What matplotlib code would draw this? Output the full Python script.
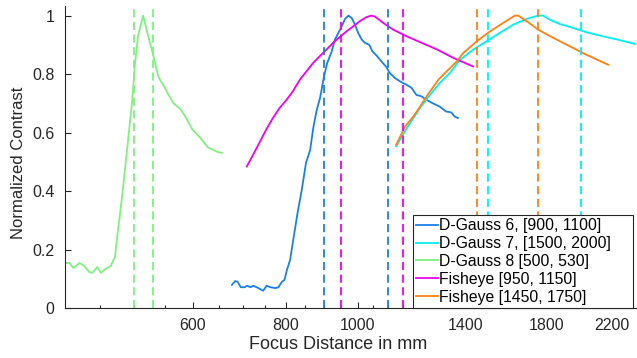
import matplotlib
matplotlib.use("Agg")
import matplotlib.pyplot as plt
from matplotlib.ticker import FixedLocator, NullFormatter
import numpy as np

plt.rcParams['font.family'] = ['Liberation Sans', 'DejaVu Sans']

# D-Gauss 6, focus range [900, 1100]
dg6_x = [677, 684, 689, 696, 704, 710, 717, 724, 735, 746, 754, 763, 775, 782, 791, 797,
         803, 811, 819, 830, 841, 852, 863, 872, 881, 890, 901, 910, 923, 932, 947, 962,
         972, 982, 992, 1002, 1013, 1023, 1037, 1047, 1061, 1077, 1092, 1105, 1122, 1146,
         1163, 1182, 1200, 1219, 1238, 1263, 1290, 1316, 1337, 1351, 1365]
dg6_y = [0.079, 0.092, 0.090, 0.071, 0.071, 0.076, 0.071, 0.076, 0.068, 0.059, 0.076, 0.071,
         0.068, 0.071, 0.090, 0.096, 0.130, 0.164, 0.233, 0.325, 0.404, 0.496, 0.540, 0.620,
         0.678, 0.718, 0.792, 0.838, 0.878, 0.918, 0.952, 0.989, 1.000, 0.992, 0.969, 0.940,
         0.918, 0.907, 0.900, 0.878, 0.863, 0.843, 0.826, 0.804, 0.787, 0.772, 0.764, 0.753,
         0.729, 0.724, 0.712, 0.700, 0.689, 0.672, 0.669, 0.655, 0.650]

# D-Gauss 7, focus range [1500, 2000]
dg7_x = [1127, 1165, 1214, 1252, 1291, 1332, 1374, 1432, 1492, 1555, 1621, 1690, 1751,
         1779, 1816, 1874, 1952, 2035, 2143, 2257, 2364]
dg7_y = [0.553, 0.615, 0.685, 0.729, 0.770, 0.804, 0.849, 0.884, 0.912, 0.941, 0.969,
         0.989, 1.000, 1.000, 0.986, 0.971, 0.958, 0.943, 0.929, 0.916, 0.903]

# D-Gauss 8, focus range [500, 530]
dg8_x = [403, 409, 414, 422, 428, 435, 439, 446, 451, 457, 465, 471, 475, 481, 489, 497,
         501, 506, 514, 521, 531, 539, 548, 556, 565, 577, 586, 590, 599, 612, 628, 646, 656]
dg8_y = [0.154, 0.154, 0.137, 0.154, 0.144, 0.123, 0.120, 0.140, 0.120, 0.133, 0.144, 0.175,
         0.257, 0.370, 0.540, 0.710, 0.830, 0.930, 1.000, 0.940, 0.860, 0.790, 0.760, 0.730,
         0.700, 0.680, 0.655, 0.640, 0.610, 0.586, 0.550, 0.535, 0.530]

# Fisheye, focus range [950, 1150]
fe1_x = [709, 721, 737, 753, 769, 785, 802, 818, 836, 853, 871, 889, 908, 926, 946, 966,
         986, 1007, 1028, 1044, 1055, 1083, 1117, 1165, 1215, 1280, 1347, 1431]
fe1_y = [0.484, 0.518, 0.564, 0.610, 0.650, 0.684, 0.712, 0.741, 0.781, 0.809, 0.838, 0.861,
         0.884, 0.906, 0.927, 0.946, 0.963, 0.981, 0.995, 1.000, 0.997, 0.975, 0.952, 0.929,
         0.909, 0.884, 0.855, 0.826]

# Fisheye, focus range [1450, 1750]
fe2_x = [1127, 1159, 1189, 1214, 1239, 1285, 1318, 1360, 1388, 1447, 1508, 1571, 1629,
         1646, 1690, 1751, 1835, 1932, 2035, 2176]
fe2_y = [0.558, 0.621, 0.655, 0.689, 0.724, 0.781, 0.809, 0.843, 0.872, 0.912, 0.946,
         0.975, 1.000, 1.000, 0.981, 0.952, 0.924, 0.895, 0.866, 0.832]

labels = ['D-Gauss 6, [900, 1100]', 'D-Gauss 7, [1500, 2000]', 'D-Gauss 8 [500, 530]',
          'Fisheye [950, 1150]', 'Fisheye [1450, 1750]']
colors = ['#1a80e6', '#00f0f0', '#80f080', '#f000f0', '#ff8010']
ranges = [[900, 1100], [1500, 2000], [500, 530], [950, 1150], [1450, 1750]]
series = [(dg6_x, dg6_y), (dg7_x, dg7_y), (dg8_x, dg8_y), (fe1_x, fe1_y), (fe2_x, fe2_y)]

xticks = [600, 800, 1000, 1400, 1800, 2200]
yticks = [0, 0.2, 0.4, 0.6, 0.8, 1]

fig = plt.figure(figsize=(6.37, 3.58), dpi=100)
ax = fig.add_axes([0.1028, 0.1397, 0.8956, 0.8436])

handles = []
for (xs, ys), lab, c in zip(series, labels, colors):
    h, = ax.plot(xs, ys, color=c, lw=1.3, label=lab)
    handles.append(h)

for rng, c in zip(ranges, colors):
    for v in rng:
        ax.axvline(v, color=c, lw=1.3, linestyle=(0, (4.5, 2.5)))

ax.set_xscale('log')
ax.set_xlim(404, 2372)
ax.set_ylim(0, 1.033)

ax.xaxis.set_major_locator(FixedLocator(xticks))
ax.set_xticklabels([str(t) for t in xticks])
ax.xaxis.set_minor_locator(FixedLocator([v for v in range(450, 2400, 50) if v not in xticks]))
ax.xaxis.set_minor_formatter(NullFormatter())
ax.set_yticks(yticks)
ax.set_yticklabels(['0', '0.2', '0.4', '0.6', '0.8', '1'])

txt = '#262626'
for s in ['top', 'right']:
    ax.spines[s].set_visible(False)
for s in ['left', 'bottom']:
    ax.spines[s].set_color(txt)
    ax.spines[s].set_linewidth(0.8)
ax.tick_params(which='both', direction='in', colors=txt, labelsize=11.5, width=0.8)
ax.tick_params(which='major', length=4.5)
ax.tick_params(axis='y', which='major', pad=8)
ax.tick_params(axis='x', which='major', pad=7)
ax.tick_params(which='minor', length=2.5)

ax.set_xlabel('Focus Distance in mm', fontsize=13, color=txt)
ax.xaxis.set_label_coords(0.4777, -0.093)
ax.set_ylabel('Normalized Contrast', fontsize=12, color=txt)
ax.yaxis.set_label_coords(-0.07, 0.482)

# MATLAB-style legend box: wider than its text
leg = ax.legend(handles=handles, loc='lower left', bbox_to_anchor=(0.609, 0.0, 0.386, 0.3),
                mode='expand', borderaxespad=0, fontsize=11.3, handlelength=1.35,
                handletextpad=0.12, labelspacing=0.18, borderpad=0.22, fancybox=False,
                framealpha=1, edgecolor='#262626')
leg.get_frame().set_linewidth(0.8)
for t in leg.get_texts():
    t.set_color('#000000')

fig.savefig('out.png', dpi=100)
